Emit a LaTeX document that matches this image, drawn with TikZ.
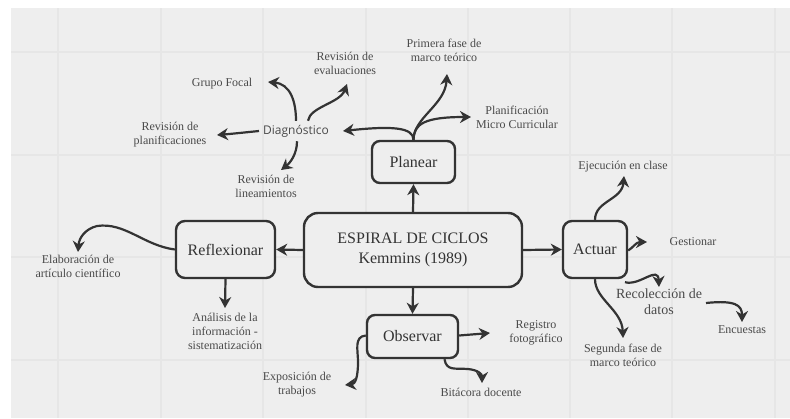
\documentclass[tikz,border=0pt]{standalone}
\usepackage{fontspec}
\setmainfont{Liberation Serif}
\newfontfamily\diagfont{Open Sans}
\usetikzlibrary{arrows.meta}
\definecolor{bggray}{HTML}{EEEEEE}
\definecolor{gridgray}{HTML}{E6E6E6}
\definecolor{ink}{HTML}{333333}
\definecolor{labelink}{HTML}{4A4A4A}
\tikzset{
  boxnode/.style={draw=ink, line width=2.4pt, fill=bggray, inner sep=0pt, text=ink,
    font=\fontsize{16}{20}\selectfont, align=center},
  lbl/.style={text=labelink, font=\fontsize{12}{14}\selectfont, align=center, inner sep=2pt},
  conn/.style={draw=ink, line width=2.2pt, -{Stealth[length=11pt,width=12pt,inset=3.5pt]}},
}
\begin{document}
\begin{tikzpicture}[x=1pt,y=-1pt]
\useasboundingbox (0,0) rectangle (790,418);
\fill[white] (0,0) rectangle (790,418);
\fill[bggray] (11,8) rectangle (790,418);
\foreach \gx in {58,161,263,366,468,570,672,775} \draw[gridgray, line width=1.3pt] (\gx,8) -- (\gx,418);
\foreach \gy in {52,155,257,360} \draw[gridgray, line width=1.3pt] (11,\gy) -- (790,\gy);

% boxes
\node[boxnode, rounded corners=14pt, minimum width=218pt, minimum height=74pt] (main) at (413,250) {ESPIRAL DE CICLOS\\Kemmins (1989)};
\node[boxnode, rounded corners=8pt, minimum width=83pt, minimum height=42pt] (plan) at (413.5,162) {Planear};
\node[boxnode, rounded corners=9pt, minimum width=99pt, minimum height=57pt] (refl) at (225.5,249.5) {Reflexionar};
\node[boxnode, rounded corners=8pt, minimum width=91pt, minimum height=43pt] (obs) at (412.5,336.5) {Observar};
\node[boxnode, rounded corners=9pt, minimum width=64pt, minimum height=57pt] (act) at (595,249.5) {Actuar};

% labels
\node[text=labelink, font=\diagfont\fontsize{12}{14}\selectfont, inner sep=4pt] (diag) at (296,131) {Diagnóstico};
\node[lbl] (gf) at (222,84) {Grupo Focal};
\node[lbl] (re) at (345,63) {Revisión de\\evaluaciones};
\node[lbl] (rp) at (170,135) {Revisión de\\planificaciones};
\node[lbl] (rl) at (266,186) {Revisión de\\lineamientos};
\node[lbl] (pf) at (444,50) {Primera fase de\\marco teórico};
\node[lbl] (pm) at (517,117) {Planificación\\Micro Curricular};
\node[lbl] (ea) at (78,266) {Elaboración de\\artículo científico};
\node[lbl] (an) at (225,331) {Análisis de la\\información -\\sistematización};
\node[lbl] (rf) at (536,333) {Registro\\fotográfico};
\node[lbl] (ex) at (297,385) {Exposición de\\trabajos};
\node[lbl] (bd) at (481,392) {Bitácora docente};
\node[lbl] (ej) at (623,167) {Ejecución en clase};
\node[lbl] (ge) at (693,242) {Gestionar};
\node[lbl, font=\fontsize{14}{16}\selectfont] (rd) at (659,302) {Recolección de\\datos};
\node[lbl] (en) at (742,330) {Encuestas};
\node[lbl] (sf) at (623,355) {Segunda fase de\\marco teórico};

% tip coordinates
\coordinate (tdiag) at (343,131);
\coordinate (tpf) at (447,74);
\coordinate (tpm) at (471,117);
\coordinate (tgf) at (268,82);
\coordinate (tre) at (347,84);
\coordinate (trp) at (217,135);
\coordinate (trl) at (281,170);
\coordinate (tea) at (78,252);
\coordinate (tan) at (225,308);
\coordinate (trf) at (490,333);
\coordinate (tex) at (345,385);
\coordinate (tbd) at (482,383);
\coordinate (tej) at (624,176);
\coordinate (tge) at (647,242);
\coordinate (trd) at (659,287);
\coordinate (ten) at (742,322);
\coordinate (tsf) at (623,338);
\coordinate (srd) at (706,303);

% main to boxes
\draw[conn] (main.north) -- (plan.south);
\draw[conn] (main.west) -- (refl.east);
\draw[conn] (main.south) -- (obs.north);
\draw[conn] (main.east) -- (act.west);

% Planear branches
\draw[conn] (plan.north) .. controls +(0,-13) and (390,126) .. (tdiag);
\draw[conn] (plan.north) .. controls +(0,-22) and (445,105) .. (tpf);
\draw[conn] (plan.north) .. controls +(0,-16) and (425,117) .. (tpm);

% Diagnostico branches
\draw[conn] (diag.north) .. controls +(0,-20) and (290,84) .. (tgf);
\draw[conn] ([xshift=12pt]diag.north) .. controls +(2,-14) and (340,103) .. (tre);
\draw[conn] (diag.west) .. controls +(-10,1) and (230,134) .. (trp);
\draw[conn] ([xshift=1pt]diag.south) .. controls +(0,13) and (290,163) .. (trl);

% Reflexionar
\draw[conn] (refl.west) .. controls +(-31,-4) and (125,222) .. (97,226) .. controls (85,229) and (79,238) .. (tea);
\draw[conn] (refl.south) -- (tan);

% Observar
\draw[conn] ([yshift=1pt]obs.east) .. controls +(12,-1) and (478,334) .. (trf);
\draw[conn] ([yshift=1pt]obs.west) .. controls +(-12,1) and (358,350) .. (358,362) .. controls (358,378) and (355,384) .. (tex);
\draw[conn] ([xshift=32pt]obs.south) .. controls +(2,12) and (455,368) .. (468,369) .. controls (478,370) and (482,374) .. (tbd);

% Actuar
\draw[conn] (act.north) .. controls +(0,-19) and (622,200) .. (tej);
\draw[conn] ([yshift=-1pt]act.east) .. controls +(5,-3) and (636,242) .. (tge);
\draw[conn] ([xshift=30pt,yshift=-3pt]act.south) .. controls +(15,4) and (658,265) .. (trd);
\draw[conn] (act.south) .. controls +(0,20) and (622,310) .. (tsf);
\draw[conn] (srd) .. controls +(29,-3) and (742,305) .. (ten);
\end{tikzpicture}
\end{document}
